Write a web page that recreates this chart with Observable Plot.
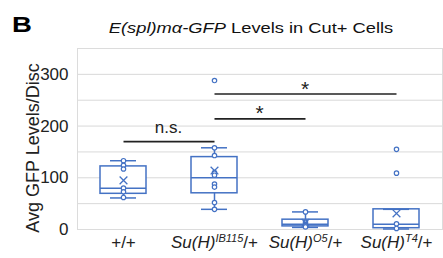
<!DOCTYPE html>
<html>
<head>
<meta charset="utf-8">
<script src="https://cdn.jsdelivr.net/npm/d3@7"></script>
<script src="https://cdn.jsdelivr.net/npm/@observablehq/plot@0.6"></script>
<style>
  html, body { margin: 0; padding: 0; background: #fff; }
  #wrap { position: relative; width: 443px; height: 258px; font-family: "Liberation Sans", Arial, sans-serif; overflow: hidden; }
  #panel { position: absolute; left: 12px; top: 14px; font-size: 22px; font-weight: bold; line-height: 1; transform: scaleX(1.25); transform-origin: left top; color: #000; }
  #title { position: absolute; left: 251px; top: 20px; font-size: 15.5px; line-height: 1; white-space: nowrap; transform: translateX(-50%) scaleX(1.18); color: #111; }
  #chart { position: absolute; left: 0; top: 0; }
</style>
</head>
<body>
<div id="wrap">
  <div id="chart"></div>
  <div id="panel">B</div>
  <div id="title"><i>E(spl)mα-GFP</i> Levels in Cut+ Cells</div>
</div>
<script>
// ---- data ----
const categories = ["+/+", "Su(H)IB115/+", "Su(H)O5/+", "Su(H)T4/+"];
const labelBase = ["+/+", "Su(H)", "Su(H)", "Su(H)"];
const labelSup = ["", "IB115", "O5", "T4"];
const labelTail = ["", "/+", "/+", "/+"];

const whiskerLow = [61, 39, 4, 1];
const q1 = [69, 70, 6, 2.5];
const median = [80, 100, 10, 10];
const q3 = [122, 140, 19, 39];
const whiskerHigh = [133, 158, 34, 39];
const mean = [95, 114, 13, 31];

const pointsWT = [133, 124, 117, 80, 73, 62];
const pointsIB115 = [288, 158, 143, 110, 105, 88, 82, 52, 39];
const pointsO5 = [34, 14, 10, 8, 5];
const pointsT4 = [155, 109, 11, 2];

const gridValues = [0, 50, 100, 150, 200, 250, 300];
const yTicks = [0, 100, 200, 300];
const yLabel = "Avg GFP Levels/Disc";

const sigFrom = ["+/+", "Su(H)IB115/+", "Su(H)IB115/+"];
const sigTo = ["Su(H)IB115/+", "Su(H)O5/+", "Su(H)T4/+"];
const sigY = [170, 214, 262];
const sigLabel = ["n.s.", "*", "*"];

// ---- build ----
const blue = "#4472C4";
const idx = categories.map((_, i) => i);
const pointRows = [pointsWT, pointsIB115, pointsO5, pointsT4]
  .flatMap((arr, i) => arr.map(v => ({g: categories[i], v})));
const sigRows = sigFrom.map((f, i) => ({x1: f, x2: sigTo[i], y: sigY[i], label: sigLabel[i]}));

const plot = Plot.plot({
  width: 443,
  height: 258,
  marginTop: 48,
  marginBottom: 29,
  marginLeft: 77,
  marginRight: 1,
  style: {fontFamily: '"Liberation Sans", Arial, sans-serif', background: "transparent", color: "#222"},
  x: {domain: categories, paddingInner: 0.5, paddingOuter: 0.25, label: null},
  y: {domain: [0, 350], label: null},
  marks: [
    Plot.ruleY(gridValues, {stroke: "#d9d9d9", strokeWidth: 1}),
    Plot.frame({stroke: "#dcdcdc"}),
    Plot.link(sigRows, {x1: "x1", x2: "x2", y1: "y", y2: "y", stroke: "#222", strokeWidth: 1.6}),
    Plot.ruleX(idx, {x: i => categories[i], y1: i => whiskerLow[i], y2: i => whiskerHigh[i], stroke: blue, strokeWidth: 1.5}),
    Plot.barY(idx, {x: i => categories[i], y1: i => q1[i], y2: i => q3[i], fill: "white", stroke: blue, strokeWidth: 1.5}),
    Plot.tickY(idx, {x: i => categories[i], y: i => median[i], stroke: blue, strokeWidth: 1.5}),
    Plot.tickY(idx, {x: i => categories[i], y: i => whiskerLow[i], stroke: blue, strokeWidth: 1.5, insetLeft: 10, insetRight: 10}),
    Plot.tickY(idx, {x: i => categories[i], y: i => whiskerHigh[i], stroke: blue, strokeWidth: 1.5, insetLeft: 10, insetRight: 10}),
    Plot.dot(pointRows, {x: "g", y: "v", r: 2.2, stroke: blue, fill: "white", strokeWidth: 1.2}),
    Plot.dot(idx, {x: i => categories[i], y: i => mean[i], symbol: "times", r: 3.6, stroke: blue, strokeWidth: 1.3}),
    Plot.text([yLabel], {frameAnchor: "left", textAnchor: "middle", rotate: -90, dx: -44, dy: 9, fontSize: 18, fill: "#222"}),
    Plot.axisY({ticks: yTicks, tickSize: 0, tickPadding: 9, fontSize: 17}),
    Plot.axisX({tickSize: 0, tickPadding: 6, fontSize: 17})
  ]
});

document.getElementById("chart").appendChild(plot);

// superscript x tick labels
const svg = d3.select(plot);
svg.selectAll('g[aria-label="x-axis tick label"] text').each(function () {
  const t = d3.select(this);
  const txt = this.textContent;
  const i = categories.indexOf(txt);
  if (i < 0) return;
  t.text(null);
  if (labelSup[i]) {
    t.append("tspan").attr("font-style", "italic").text(labelBase[i]);
    t.append("tspan").attr("font-style", "italic").attr("font-size", 11).attr("dy", -6).text(labelSup[i]);
    t.append("tspan").attr("dy", 6).text(labelTail[i]);
  } else {
    t.append("tspan").text(labelBase[i]);
  }
});

// significance labels at the midpoint of their bars, via the plot's scales
const xs = plot.scale("x");
const ys = plot.scale("y");
const gSig = svg.append("g").attr("font-family", '"Liberation Sans", Arial, sans-serif').attr("fill", "#222");
sigRows.forEach(d => {
  const cx = (xs.apply(d.x1) + xs.apply(d.x2)) / 2 + xs.bandwidth / 2;
  const cy = ys.apply(d.y);
  const isStar = d.label === "*";
  gSig.append("text")
    .attr("x", cx)
    .attr("y", cy - (isStar ? -2 : 8))
    .attr("text-anchor", "middle")
    .attr("font-size", isStar ? 21 : 17)
    .text(d.label);
});
</script>
</body>
</html>
